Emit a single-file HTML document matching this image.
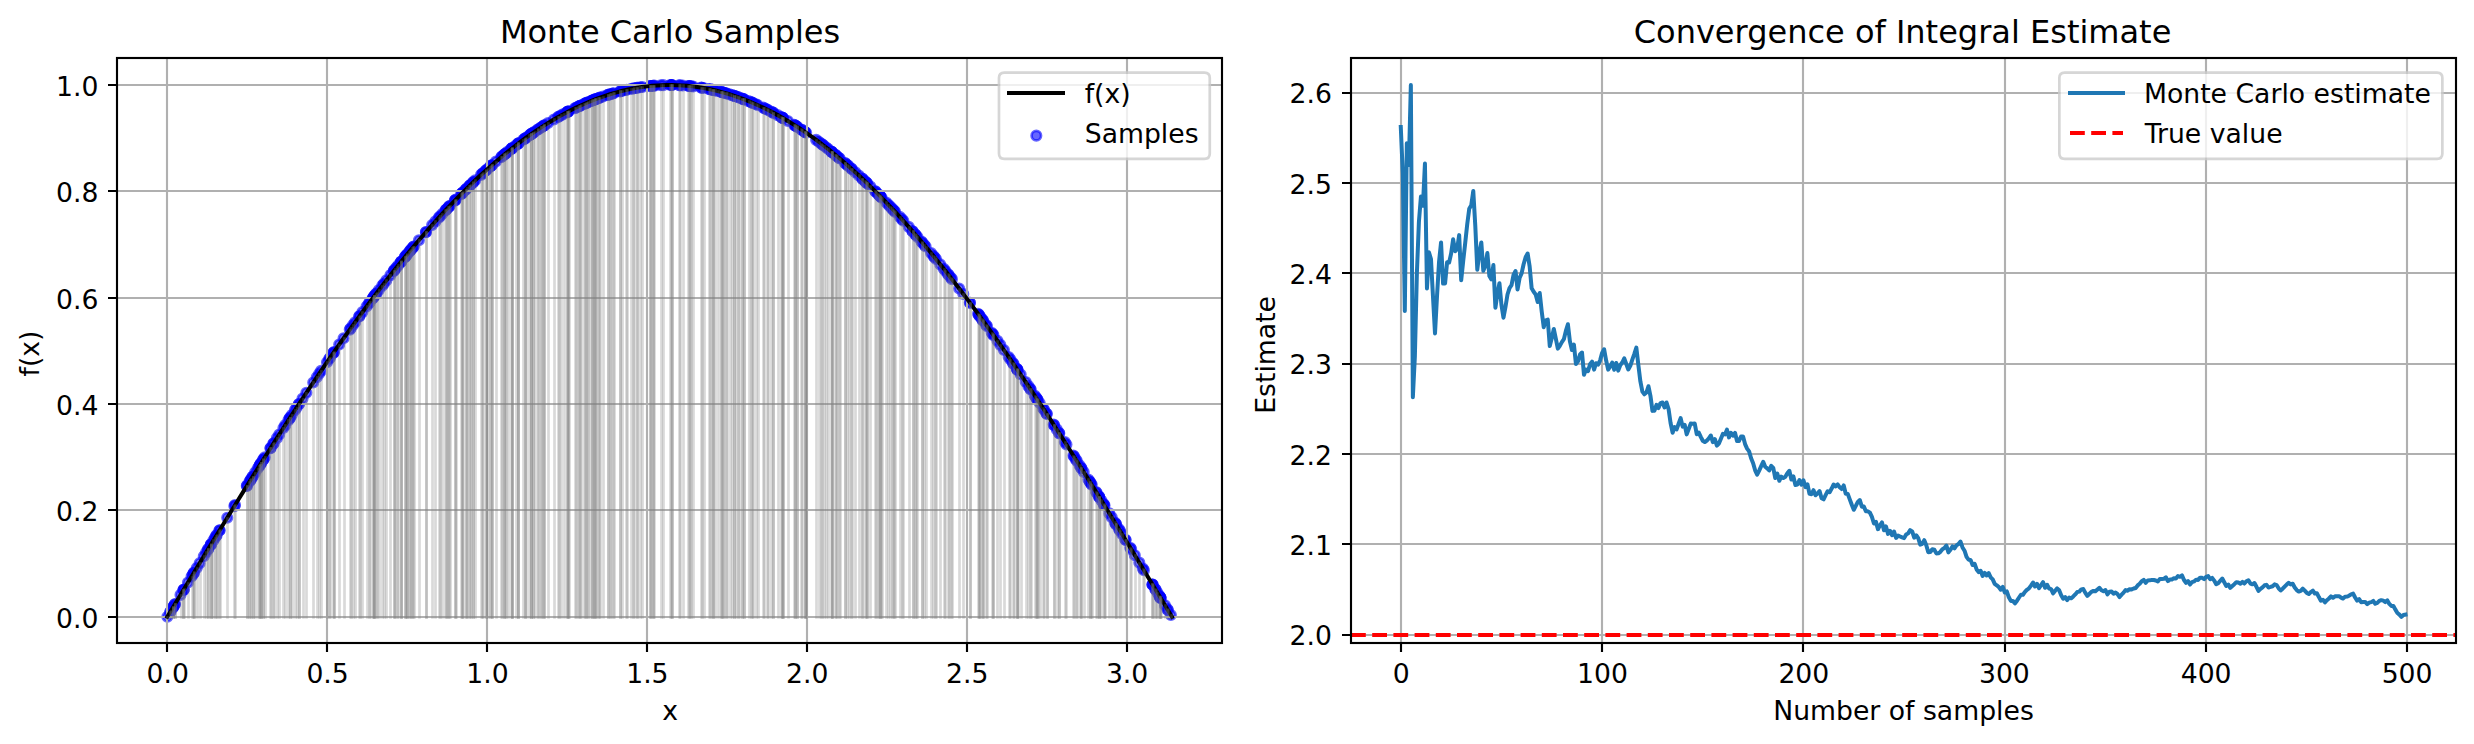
<!DOCTYPE html>
<html><head><meta charset="utf-8"><title>Monte Carlo Integration</title>
<style>html,body{margin:0;padding:0;background:#fff}svg{display:block}</style></head>
<body>
<svg width="2474" height="744" viewBox="0 0 2474 744">
<defs>
<clipPath id="c1"><rect x="117.05" y="58.45" width="1105.15" height="585.00"/></clipPath>
<clipPath id="c2"><rect x="1350.55" y="58.45" width="1105.15" height="585.00"/></clipPath>
<circle id="m" r="4.720" fill="#00f" fill-opacity=".6" stroke="#00f" stroke-opacity=".6" stroke-width="2.667"/>
</defs>
<rect width="2474" height="744" fill="#fff"/>
<g clip-path="url(#c1)">
<use href="#m" x="867.01" y="183.17"/><use href="#m" x="454.76" y="200.62"/><use href="#m" x="395.20" y="269.12"/><use href="#m" x="721.18" y="91.94"/><use href="#m" x="890.12" y="206.52"/><use href="#m" x="592.37" y="100.48"/><use href="#m" x="1152.64" y="584.74"/><use href="#m" x="855.32" y="172.20"/><use href="#m" x="650.47" y="85.99"/><use href="#m" x="561.24" y="115.29"/><use href="#m" x="512.07" y="148.29"/><use href="#m" x="899.75" y="216.89"/><use href="#m" x="607.91" y="94.91"/><use href="#m" x="227.24" y="517.73"/><use href="#m" x="567.19" y="112.09"/><use href="#m" x="908.73" y="226.89"/><use href="#m" x="350.63" y="328.39"/><use href="#m" x="343.56" y="338.34"/><use href="#m" x="701.32" y="87.65"/><use href="#m" x="701.60" y="87.70"/><use href="#m" x="804.66" y="131.75"/><use href="#m" x="1020.69" y="374.57"/><use href="#m" x="895.13" y="211.87"/><use href="#m" x="781.17" y="117.06"/><use href="#m" x="893.11" y="209.70"/><use href="#m" x="491.76" y="165.20"/><use href="#m" x="530.77" y="134.39"/><use href="#m" x="396.62" y="267.34"/><use href="#m" x="462.37" y="192.87"/><use href="#m" x="801.21" y="129.43"/><use href="#m" x="259.82" y="465.11"/><use href="#m" x="603.02" y="96.53"/><use href="#m" x="600.16" y="97.54"/><use href="#m" x="663.28" y="85.14"/><use href="#m" x="595.11" y="99.41"/><use href="#m" x="481.01" y="174.89"/><use href="#m" x="595.63" y="99.21"/><use href="#m" x="1064.86" y="442.05"/><use href="#m" x="1115.86" y="524.04"/><use href="#m" x="671.47" y="85.05"/><use href="#m" x="794.16" y="124.86"/><use href="#m" x="283.44" y="427.91"/><use href="#m" x="486.06" y="170.28"/><use href="#m" x="584.05" y="103.97"/><use href="#m" x="1037.65" y="400.00"/><use href="#m" x="418.91" y="240.27"/><use href="#m" x="652.58" y="85.80"/><use href="#m" x="1157.46" y="592.74"/><use href="#m" x="689.20" y="86.04"/><use href="#m" x="783.05" y="118.14"/><use href="#m" x="288.48" y="420.11"/><use href="#m" x="997.49" y="340.90"/><use href="#m" x="773.17" y="112.67"/><use href="#m" x="714.90" y="90.36"/><use href="#m" x="511.65" y="148.62"/><use href="#m" x="472.83" y="182.60"/><use href="#m" x="586.26" y="103.01"/><use href="#m" x="851.77" y="169.00"/><use href="#m" x="1046.84" y="414.05"/><use href="#m" x="680.10" y="85.33"/><use href="#m" x="839.73" y="158.52"/><use href="#m" x="755.96" y="104.30"/><use href="#m" x="795.11" y="125.46"/><use href="#m" x="845.13" y="163.14"/><use href="#m" x="1013.57" y="364.09"/><use href="#m" x="250.87" y="479.44"/><use href="#m" x="934.54" y="257.31"/><use href="#m" x="412.09" y="248.36"/><use href="#m" x="362.42" y="312.12"/><use href="#m" x="742.42" y="98.76"/><use href="#m" x="263.44" y="459.35"/><use href="#m" x="1056.76" y="429.39"/><use href="#m" x="797.47" y="126.97"/><use href="#m" x="894.09" y="210.75"/><use href="#m" x="183.49" y="589.92"/><use href="#m" x="764.50" y="108.27"/><use href="#m" x="726.68" y="93.48"/><use href="#m" x="326.99" y="362.18"/><use href="#m" x="321.07" y="370.86"/><use href="#m" x="866.07" y="182.26"/><use href="#m" x="487.54" y="168.94"/><use href="#m" x="862.49" y="178.86"/><use href="#m" x="724.26" y="92.78"/><use href="#m" x="558.06" y="117.08"/><use href="#m" x="1096.75" y="492.92"/><use href="#m" x="1012.89" y="363.10"/><use href="#m" x="526.35" y="137.52"/><use href="#m" x="211.08" y="544.26"/><use href="#m" x="473.48" y="181.97"/><use href="#m" x="567.33" y="112.01"/><use href="#m" x="875.54" y="191.53"/><use href="#m" x="1167.30" y="609.10"/><use href="#m" x="524.87" y="138.60"/><use href="#m" x="933.40" y="255.92"/><use href="#m" x="763.24" y="107.66"/><use href="#m" x="862.22" y="178.61"/><use href="#m" x="319.12" y="373.74"/><use href="#m" x="568.03" y="111.65"/><use href="#m" x="409.27" y="251.76"/><use href="#m" x="512.35" y="148.07"/><use href="#m" x="682.81" y="85.49"/><use href="#m" x="837.03" y="156.26"/><use href="#m" x="273.69" y="443.16"/><use href="#m" x="298.79" y="404.28"/><use href="#m" x="490.77" y="166.07"/><use href="#m" x="831.95" y="152.09"/><use href="#m" x="1017.75" y="370.23"/><use href="#m" x="723.13" y="92.47"/><use href="#m" x="1025.74" y="382.07"/><use href="#m" x="553.92" y="119.47"/><use href="#m" x="485.56" y="170.73"/><use href="#m" x="523.21" y="139.81"/><use href="#m" x="339.17" y="344.59"/><use href="#m" x="1000.28" y="344.87"/><use href="#m" x="507.54" y="151.90"/><use href="#m" x="722.24" y="92.22"/><use href="#m" x="748.54" y="101.15"/><use href="#m" x="691.26" y="86.26"/><use href="#m" x="169.98" y="612.37"/><use href="#m" x="1160.26" y="597.39"/><use href="#m" x="1076.86" y="461.03"/><use href="#m" x="375.89" y="294.03"/><use href="#m" x="461.14" y="194.10"/><use href="#m" x="689.73" y="86.09"/><use href="#m" x="1073.42" y="455.56"/><use href="#m" x="1155.52" y="589.52"/><use href="#m" x="426.03" y="232.00"/><use href="#m" x="734.29" y="95.87"/><use href="#m" x="978.03" y="313.76"/><use href="#m" x="563.50" y="114.05"/><use href="#m" x="901.78" y="219.12"/><use href="#m" x="329.11" y="359.09"/><use href="#m" x="770.80" y="111.43"/><use href="#m" x="1037.20" y="399.33"/><use href="#m" x="1155.41" y="589.34"/><use href="#m" x="247.02" y="485.63"/><use href="#m" x="597.64" y="98.46"/><use href="#m" x="372.78" y="298.16"/><use href="#m" x="620.03" y="91.42"/><use href="#m" x="717.61" y="91.02"/><use href="#m" x="261.05" y="463.16"/><use href="#m" x="465.53" y="189.71"/><use href="#m" x="1099.21" y="496.91"/><use href="#m" x="738.95" y="97.49"/><use href="#m" x="626.84" y="89.79"/><use href="#m" x="924.34" y="244.99"/><use href="#m" x="912.62" y="231.32"/><use href="#m" x="216.09" y="536.01"/><use href="#m" x="879.30" y="195.31"/><use href="#m" x="1010.46" y="359.55"/><use href="#m" x="334.00" y="352.00"/><use href="#m" x="951.94" y="279.15"/><use href="#m" x="455.16" y="200.21"/><use href="#m" x="475.19" y="180.34"/><use href="#m" x="835.66" y="155.12"/><use href="#m" x="279.20" y="434.53"/><use href="#m" x="835.27" y="154.80"/><use href="#m" x="1059.30" y="433.35"/><use href="#m" x="866.86" y="183.01"/><use href="#m" x="609.67" y="94.36"/><use href="#m" x="607.55" y="95.03"/><use href="#m" x="935.96" y="259.06"/><use href="#m" x="735.57" y="96.31"/><use href="#m" x="252.59" y="476.68"/><use href="#m" x="752.68" y="102.88"/><use href="#m" x="985.94" y="324.66"/><use href="#m" x="505.93" y="153.20"/><use href="#m" x="1099.20" y="496.90"/><use href="#m" x="921.52" y="241.65"/><use href="#m" x="744.04" y="99.37"/><use href="#m" x="922.45" y="242.75"/><use href="#m" x="246.80" y="485.98"/><use href="#m" x="1030.70" y="389.50"/><use href="#m" x="992.63" y="334.02"/><use href="#m" x="1081.42" y="468.28"/><use href="#m" x="296.52" y="407.75"/><use href="#m" x="249.45" y="481.72"/><use href="#m" x="306.35" y="392.82"/><use href="#m" x="568.53" y="111.39"/><use href="#m" x="593.58" y="100.01"/><use href="#m" x="732.13" y="95.17"/><use href="#m" x="290.10" y="417.60"/><use href="#m" x="369.63" y="302.38"/><use href="#m" x="982.73" y="320.21"/><use href="#m" x="637.46" y="87.73"/><use href="#m" x="979.00" y="315.09"/><use href="#m" x="174.75" y="604.45"/><use href="#m" x="721.46" y="92.01"/><use href="#m" x="1103.58" y="504.00"/><use href="#m" x="752.19" y="102.66"/><use href="#m" x="374.34" y="296.08"/><use href="#m" x="888.40" y="204.71"/><use href="#m" x="548.04" y="123.01"/><use href="#m" x="838.80" y="157.73"/><use href="#m" x="196.74" y="567.94"/><use href="#m" x="806.16" y="132.78"/><use href="#m" x="199.63" y="563.16"/><use href="#m" x="915.55" y="234.69"/><use href="#m" x="642.41" y="86.96"/><use href="#m" x="289.61" y="418.36"/><use href="#m" x="712.46" y="89.80"/><use href="#m" x="234.37" y="506.11"/><use href="#m" x="823.71" y="145.58"/><use href="#m" x="1168.03" y="610.32"/><use href="#m" x="940.28" y="264.41"/><use href="#m" x="743.74" y="99.26"/><use href="#m" x="270.40" y="448.34"/><use href="#m" x="870.39" y="186.45"/><use href="#m" x="831.55" y="151.77"/><use href="#m" x="216.61" y="535.15"/><use href="#m" x="963.29" y="293.95"/><use href="#m" x="688.43" y="85.96"/><use href="#m" x="595.15" y="99.40"/><use href="#m" x="959.16" y="288.52"/><use href="#m" x="580.78" y="105.43"/><use href="#m" x="650.56" y="85.98"/><use href="#m" x="349.76" y="329.60"/><use href="#m" x="490.11" y="166.65"/><use href="#m" x="1016.78" y="368.79"/><use href="#m" x="355.06" y="322.23"/><use href="#m" x="586.53" y="102.89"/><use href="#m" x="1160.95" y="598.54"/><use href="#m" x="404.99" y="256.97"/><use href="#m" x="1088.41" y="479.48"/><use href="#m" x="1089.98" y="482.01"/><use href="#m" x="259.01" y="466.41"/><use href="#m" x="633.11" y="88.50"/><use href="#m" x="671.85" y="85.05"/><use href="#m" x="482.42" y="173.59"/><use href="#m" x="214.85" y="538.06"/><use href="#m" x="410.10" y="250.76"/><use href="#m" x="263.26" y="459.64"/><use href="#m" x="406.65" y="254.94"/><use href="#m" x="978.86" y="314.89"/><use href="#m" x="1066.45" y="444.56"/><use href="#m" x="210.71" y="544.87"/><use href="#m" x="470.64" y="184.70"/><use href="#m" x="1152.46" y="584.44"/><use href="#m" x="709.31" y="89.13"/><use href="#m" x="796.53" y="126.36"/><use href="#m" x="172.86" y="607.59"/><use href="#m" x="654.46" y="85.64"/><use href="#m" x="1160.24" y="597.36"/><use href="#m" x="544.23" y="125.40"/><use href="#m" x="264.78" y="457.23"/><use href="#m" x="631.36" y="88.84"/><use href="#m" x="1134.80" y="555.19"/><use href="#m" x="510.72" y="149.36"/><use href="#m" x="969.95" y="302.81"/><use href="#m" x="969.87" y="302.71"/><use href="#m" x="376.51" y="293.22"/><use href="#m" x="612.73" y="93.43"/><use href="#m" x="886.24" y="202.44"/><use href="#m" x="579.73" y="105.92"/><use href="#m" x="359.19" y="316.54"/><use href="#m" x="1139.31" y="562.64"/><use href="#m" x="821.08" y="143.58"/><use href="#m" x="1036.80" y="398.71"/><use href="#m" x="192.64" y="574.73"/><use href="#m" x="435.44" y="221.37"/><use href="#m" x="671.71" y="85.05"/><use href="#m" x="235.05" y="505.01"/><use href="#m" x="1164.97" y="605.22"/><use href="#m" x="404.85" y="257.13"/><use href="#m" x="543.33" y="125.98"/><use href="#m" x="382.30" y="285.63"/><use href="#m" x="273.22" y="443.89"/><use href="#m" x="400.85" y="262.06"/><use href="#m" x="469.30" y="186.01"/><use href="#m" x="804.70" y="131.77"/><use href="#m" x="449.84" y="205.77"/><use href="#m" x="531.26" y="134.05"/><use href="#m" x="173.25" y="606.93"/><use href="#m" x="534.72" y="131.66"/><use href="#m" x="703.67" y="88.05"/><use href="#m" x="330.06" y="357.71"/><use href="#m" x="767.51" y="109.76"/><use href="#m" x="461.81" y="193.43"/><use href="#m" x="802.29" y="130.15"/><use href="#m" x="193.60" y="573.14"/><use href="#m" x="1059.03" y="432.93"/><use href="#m" x="183.48" y="589.94"/><use href="#m" x="294.84" y="410.32"/><use href="#m" x="948.09" y="274.23"/><use href="#m" x="213.39" y="540.44"/><use href="#m" x="881.61" y="197.66"/><use href="#m" x="1142.88" y="568.55"/><use href="#m" x="1043.05" y="408.23"/><use href="#m" x="880.77" y="196.81"/><use href="#m" x="1130.28" y="547.74"/><use href="#m" x="599.11" y="97.92"/><use href="#m" x="1044.25" y="410.07"/><use href="#m" x="524.91" y="138.57"/><use href="#m" x="1101.40" y="500.46"/><use href="#m" x="316.76" y="377.24"/><use href="#m" x="1111.71" y="517.25"/><use href="#m" x="1003.90" y="350.06"/><use href="#m" x="1017.30" y="369.56"/><use href="#m" x="291.79" y="415.00"/><use href="#m" x="766.56" y="109.29"/><use href="#m" x="183.75" y="589.48"/><use href="#m" x="891.84" y="208.35"/><use href="#m" x="175.06" y="603.93"/><use href="#m" x="252.50" y="476.81"/><use href="#m" x="393.84" y="270.84"/><use href="#m" x="1046.51" y="413.53"/><use href="#m" x="532.56" y="133.14"/><use href="#m" x="709.77" y="89.23"/><use href="#m" x="738.05" y="97.17"/><use href="#m" x="393.80" y="270.88"/><use href="#m" x="742.11" y="98.64"/><use href="#m" x="831.33" y="151.59"/><use href="#m" x="466.93" y="188.34"/><use href="#m" x="587.87" y="102.32"/><use href="#m" x="622.49" y="90.81"/><use href="#m" x="1104.00" y="504.68"/><use href="#m" x="757.53" y="105.00"/><use href="#m" x="1119.98" y="530.78"/><use href="#m" x="725.92" y="93.26"/><use href="#m" x="670.19" y="85.04"/><use href="#m" x="170.83" y="610.96"/><use href="#m" x="650.42" y="86.00"/><use href="#m" x="1099.08" y="496.70"/><use href="#m" x="366.58" y="306.48"/><use href="#m" x="219.62" y="530.22"/><use href="#m" x="575.97" y="107.68"/><use href="#m" x="541.42" y="127.20"/><use href="#m" x="1028.45" y="386.13"/><use href="#m" x="194.02" y="572.45"/><use href="#m" x="1091.74" y="484.84"/><use href="#m" x="851.37" y="168.64"/><use href="#m" x="1075.74" y="459.25"/><use href="#m" x="777.66" y="115.10"/><use href="#m" x="983.04" y="320.64"/><use href="#m" x="504.40" y="154.45"/><use href="#m" x="518.49" y="143.33"/><use href="#m" x="558.98" y="116.55"/><use href="#m" x="925.61" y="246.52"/><use href="#m" x="538.30" y="129.25"/><use href="#m" x="410.64" y="250.11"/><use href="#m" x="1109.34" y="513.38"/><use href="#m" x="1079.55" y="465.30"/><use href="#m" x="517.71" y="143.92"/><use href="#m" x="804.89" y="131.91"/><use href="#m" x="442.41" y="213.72"/><use href="#m" x="374.36" y="296.06"/><use href="#m" x="505.20" y="153.80"/><use href="#m" x="495.92" y="161.59"/><use href="#m" x="1053.69" y="424.62"/><use href="#m" x="993.44" y="335.15"/><use href="#m" x="880.23" y="196.25"/><use href="#m" x="1131.12" y="549.12"/><use href="#m" x="591.81" y="100.71"/><use href="#m" x="413.46" y="246.72"/><use href="#m" x="285.23" y="425.13"/><use href="#m" x="469.75" y="185.58"/><use href="#m" x="313.23" y="382.50"/><use href="#m" x="259.90" y="464.98"/><use href="#m" x="773.04" y="112.60"/><use href="#m" x="533.18" y="132.72"/><use href="#m" x="734.50" y="95.94"/><use href="#m" x="359.52" y="316.09"/><use href="#m" x="847.36" y="165.08"/><use href="#m" x="383.80" y="283.68"/><use href="#m" x="446.61" y="209.20"/><use href="#m" x="912.52" y="231.20"/><use href="#m" x="729.64" y="94.38"/><use href="#m" x="503.69" y="155.04"/><use href="#m" x="712.82" y="89.88"/><use href="#m" x="864.52" y="180.78"/><use href="#m" x="1083.69" y="471.91"/><use href="#m" x="750.72" y="102.05"/><use href="#m" x="401.06" y="261.81"/><use href="#m" x="917.48" y="236.93"/><use href="#m" x="948.69" y="275.00"/><use href="#m" x="368.62" y="303.72"/><use href="#m" x="991.70" y="332.71"/><use href="#m" x="634.40" y="88.26"/><use href="#m" x="950.70" y="277.56"/><use href="#m" x="405.87" y="255.89"/><use href="#m" x="501.42" y="156.92"/><use href="#m" x="1125.45" y="539.77"/><use href="#m" x="828.18" y="149.07"/><use href="#m" x="943.78" y="268.78"/><use href="#m" x="858.88" y="175.48"/><use href="#m" x="372.54" y="298.47"/><use href="#m" x="640.18" y="87.29"/><use href="#m" x="980.04" y="316.50"/><use href="#m" x="845.48" y="163.44"/><use href="#m" x="173.34" y="606.79"/><use href="#m" x="255.10" y="472.65"/><use href="#m" x="515.70" y="145.46"/><use href="#m" x="1116.07" y="524.38"/><use href="#m" x="660.77" y="85.24"/><use href="#m" x="438.73" y="217.74"/><use href="#m" x="529.40" y="135.35"/><use href="#m" x="378.92" y="290.04"/><use href="#m" x="590.46" y="101.25"/><use href="#m" x="386.34" y="280.40"/><use href="#m" x="1017.00" y="369.12"/><use href="#m" x="625.69" y="90.05"/><use href="#m" x="448.40" y="207.30"/><use href="#m" x="1104.54" y="505.57"/><use href="#m" x="483.11" y="172.96"/><use href="#m" x="1081.26" y="468.03"/><use href="#m" x="210.91" y="544.54"/><use href="#m" x="877.71" y="193.70"/><use href="#m" x="653.44" y="85.72"/><use href="#m" x="613.58" y="93.18"/><use href="#m" x="203.78" y="556.30"/><use href="#m" x="208.16" y="549.07"/><use href="#m" x="501.60" y="156.78"/><use href="#m" x="1118.84" y="528.91"/><use href="#m" x="787.84" y="120.96"/><use href="#m" x="537.89" y="129.53"/><use href="#m" x="782.13" y="117.61"/><use href="#m" x="374.38" y="296.03"/><use href="#m" x="333.12" y="353.27"/><use href="#m" x="530.80" y="134.37"/><use href="#m" x="1034.68" y="395.50"/><use href="#m" x="679.07" y="85.27"/><use href="#m" x="465.58" y="189.67"/><use href="#m" x="1121.98" y="534.08"/><use href="#m" x="987.07" y="326.23"/><use href="#m" x="491.77" y="165.19"/><use href="#m" x="1143.93" y="570.30"/><use href="#m" x="1159.26" y="595.73"/><use href="#m" x="577.86" y="106.79"/><use href="#m" x="826.28" y="147.58"/><use href="#m" x="574.84" y="108.23"/><use href="#m" x="425.84" y="232.23"/><use href="#m" x="250.32" y="480.31"/><use href="#m" x="432.13" y="225.08"/><use href="#m" x="440.03" y="216.31"/><use href="#m" x="567.79" y="111.78"/><use href="#m" x="353.04" y="325.04"/><use href="#m" x="1125.57" y="539.97"/><use href="#m" x="270.65" y="447.95"/><use href="#m" x="795.42" y="125.66"/><use href="#m" x="611.05" y="93.94"/><use href="#m" x="592.78" y="100.32"/><use href="#m" x="541.02" y="127.47"/><use href="#m" x="1039.66" y="403.07"/><use href="#m" x="449.07" y="206.58"/><use href="#m" x="187.96" y="582.51"/><use href="#m" x="1089.68" y="481.52"/><use href="#m" x="1035.81" y="397.22"/><use href="#m" x="445.48" y="210.40"/><use href="#m" x="693.22" y="86.49"/><use href="#m" x="276.88" y="438.15"/><use href="#m" x="261.15" y="463.00"/><use href="#m" x="1008.67" y="356.95"/><use href="#m" x="579.47" y="106.03"/><use href="#m" x="832.10" y="152.21"/><use href="#m" x="1114.90" y="522.46"/><use href="#m" x="413.56" y="246.60"/><use href="#m" x="180.51" y="594.88"/><use href="#m" x="191.55" y="576.55"/><use href="#m" x="879.99" y="196.01"/><use href="#m" x="1096.16" y="491.98"/><use href="#m" x="636.80" y="87.84"/><use href="#m" x="544.15" y="125.45"/><use href="#m" x="712.69" y="89.85"/><use href="#m" x="1030.22" y="388.79"/><use href="#m" x="822.49" y="144.65"/><use href="#m" x="401.35" y="261.44"/><use href="#m" x="945.49" y="270.94"/><use href="#m" x="302.53" y="398.60"/><use href="#m" x="333.62" y="352.55"/><use href="#m" x="782.83" y="118.02"/><use href="#m" x="407.19" y="254.29"/><use href="#m" x="875.36" y="191.35"/><use href="#m" x="518.44" y="143.37"/><use href="#m" x="446.01" y="209.84"/><use href="#m" x="1170.88" y="615.05"/><use href="#m" x="208.09" y="549.18"/><use href="#m" x="816.13" y="139.88"/><use href="#m" x="206.16" y="552.36"/><use href="#m" x="931.05" y="253.06"/><use href="#m" x="398.45" y="265.05"/><use href="#m" x="257.54" y="468.76"/><use href="#m" x="818.77" y="141.83"/><use href="#m" x="903.32" y="220.82"/><use href="#m" x="848.55" y="166.13"/><use href="#m" x="219.43" y="530.53"/><use href="#m" x="462.97" y="192.27"/><use href="#m" x="620.48" y="91.31"/><use href="#m" x="455.73" y="199.62"/><use href="#m" x="981.59" y="318.64"/><use href="#m" x="299.01" y="403.94"/><use href="#m" x="782.33" y="117.73"/><use href="#m" x="1160.13" y="597.17"/><use href="#m" x="1074.07" y="456.59"/><use href="#m" x="390.48" y="275.10"/><use href="#m" x="167.37" y="616.72"/><use href="#m" x="1152.47" y="584.46"/><use href="#m" x="1054.13" y="425.30"/><use href="#m" x="1091.06" y="483.75"/><use href="#m" x="584.73" y="103.67"/><use href="#m" x="915.39" y="234.50"/>
</g>
<g clip-path="url(#c1)" stroke="#b0b0b0" stroke-width="2.133" fill="none">
<path d="M167 643.45V58.45M327 643.45V58.45M487 643.45V58.45M647 643.45V58.45M807 643.45V58.45M967 643.45V58.45M1127 643.45V58.45M117.05 617H1222.20M117.05 510H1222.20M117.05 404H1222.20M117.05 298H1222.20M117.05 191H1222.20M117.05 85H1222.20"/></g>
<g clip-path="url(#c1)"><polyline points="167.28,616.86 172.33,608.46 177.38,600.07 182.43,591.68 187.48,583.30 192.53,574.92 197.58,566.56 202.62,558.21 207.67,549.87 212.72,541.55 217.77,533.25 222.82,524.97 227.87,516.71 232.92,508.48 237.97,500.27 243.01,492.10 248.06,483.95 253.11,475.84 258.16,467.76 263.21,459.72 268.26,451.72 273.31,443.76 278.35,435.84 283.40,427.97 288.45,420.15 293.50,412.37 298.55,404.65 303.60,396.98 308.65,389.36 313.70,381.80 318.74,374.30 323.79,366.86 328.84,359.48 333.89,352.16 338.94,344.91 343.99,337.73 349.04,330.62 354.08,323.58 359.13,316.61 364.18,309.72 369.23,302.91 374.28,296.17 379.33,289.51 384.38,282.94 389.42,276.44 394.47,270.04 399.52,263.71 404.57,257.48 409.62,251.34 414.67,245.29 419.72,239.33 424.77,233.46 429.81,227.69 434.86,222.02 439.91,216.44 444.96,210.97 450.01,205.59 455.06,200.32 460.11,195.15 465.15,190.09 470.20,185.13 475.25,180.28 480.30,175.54 485.35,170.91 490.40,166.40 495.45,161.99 500.50,157.70 505.54,153.52 510.59,149.45 515.64,145.51 520.69,141.68 525.74,137.97 530.79,134.38 535.84,130.90 540.88,127.55 545.93,124.33 550.98,121.22 556.03,118.24 561.08,115.38 566.13,112.65 571.18,110.04 576.22,107.56 581.27,105.21 586.32,102.98 591.37,100.88 596.42,98.91 601.47,97.07 606.52,95.36 611.57,93.78 616.61,92.33 621.66,91.01 626.71,89.82 631.76,88.76 636.81,87.84 641.86,87.04 646.91,86.38 651.95,85.85 657.00,85.45 662.05,85.19 667.10,85.06 672.15,85.06 677.20,85.19 682.25,85.45 687.30,85.85 692.34,86.38 697.39,87.04 702.44,87.84 707.49,88.76 712.54,89.82 717.59,91.01 722.64,92.33 727.68,93.78 732.73,95.36 737.78,97.07 742.83,98.91 747.88,100.88 752.93,102.98 757.98,105.21 763.03,107.56 768.07,110.04 773.12,112.65 778.17,115.38 783.22,118.24 788.27,121.22 793.32,124.33 798.37,127.55 803.41,130.90 808.46,134.38 813.51,137.97 818.56,141.68 823.61,145.51 828.66,149.45 833.71,153.52 838.75,157.70 843.80,161.99 848.85,166.40 853.90,170.91 858.95,175.54 864.00,180.28 869.05,185.13 874.10,190.09 879.14,195.15 884.19,200.32 889.24,205.59 894.29,210.97 899.34,216.44 904.39,222.02 909.44,227.69 914.48,233.46 919.53,239.33 924.58,245.29 929.63,251.34 934.68,257.48 939.73,263.71 944.78,270.04 949.83,276.44 954.87,282.94 959.92,289.51 964.97,296.17 970.02,302.91 975.07,309.72 980.12,316.61 985.17,323.58 990.21,330.62 995.26,337.73 1000.31,344.91 1005.36,352.16 1010.41,359.48 1015.46,366.86 1020.51,374.30 1025.55,381.80 1030.60,389.36 1035.65,396.98 1040.70,404.65 1045.75,412.37 1050.80,420.15 1055.85,427.97 1060.90,435.84 1065.94,443.76 1070.99,451.72 1076.04,459.72 1081.09,467.76 1086.14,475.84 1091.19,483.95 1096.24,492.10 1101.28,500.27 1106.33,508.48 1111.38,516.71 1116.43,524.97 1121.48,533.25 1126.53,541.55 1131.58,549.87 1136.63,558.21 1141.67,566.56 1146.72,574.92 1151.77,583.30 1156.82,591.68 1161.87,600.07 1166.92,608.46 1171.97,616.86" fill="none" stroke="#000" stroke-width="4.000" stroke-linejoin="round" stroke-linecap="square"/>
<g stroke="#808080" stroke-opacity=".3" stroke-width="2.667" stroke-linecap="square" fill="none"><path d="M867.5 617.5V183.5"/><path d="M455.5 617.5V201.5"/><path d="M395.5 617.5V269.5"/><path d="M721.5 617.5V92.5"/><path d="M890.5 617.5V207.5"/><path d="M592.5 617.5V100.5"/><path d="M1153.5 617.5V585.5"/><path d="M855.5 617.5V172.5"/><path d="M650.5 617.5V86.5"/><path d="M561.5 617.5V115.5"/><path d="M512.5 617.5V148.5"/><path d="M900.5 617.5V217.5"/><path d="M608.5 617.5V95.5"/><path d="M227.5 617.5V518.5"/><path d="M567.5 617.5V112.5"/><path d="M909.5 617.5V227.5"/><path d="M351.5 617.5V328.5"/><path d="M344.5 617.5V338.5"/><path d="M701.5 617.5V88.5"/><path d="M702.5 617.5V88.5"/><path d="M805.5 617.5V132.5"/><path d="M1021.5 617.5V375.5"/><path d="M895.5 617.5V212.5"/><path d="M781.5 617.5V117.5"/><path d="M893.5 617.5V210.5"/><path d="M492.5 617.5V165.5"/><path d="M531.5 617.5V134.5"/><path d="M397.5 617.5V267.5"/><path d="M462.5 617.5V193.5"/><path d="M801.5 617.5V129.5"/><path d="M260.5 617.5V465.5"/><path d="M603.5 617.5V97.5"/><path d="M600.5 617.5V98.5"/><path d="M663.5 617.5V85.5"/><path d="M595.5 617.5V99.5"/><path d="M481.5 617.5V175.5"/><path d="M596.5 617.5V99.5"/><path d="M1065.5 617.5V442.5"/><path d="M1116.5 617.5V524.5"/><path d="M671.5 617.5V85.5"/><path d="M794.5 617.5V125.5"/><path d="M283.5 617.5V428.5"/><path d="M486.5 617.5V170.5"/><path d="M584.5 617.5V104.5"/><path d="M1038.5 617.5V400.5"/><path d="M419.5 617.5V240.5"/><path d="M653.5 617.5V86.5"/><path d="M1157.5 617.5V593.5"/><path d="M689.5 617.5V86.5"/><path d="M783.5 617.5V118.5"/><path d="M288.5 617.5V420.5"/><path d="M997.5 617.5V341.5"/><path d="M773.5 617.5V113.5"/><path d="M715.5 617.5V90.5"/><path d="M512.5 617.5V149.5"/><path d="M473.5 617.5V183.5"/><path d="M586.5 617.5V103.5"/><path d="M852.5 617.5V169.5"/><path d="M1047.5 617.5V414.5"/><path d="M680.5 617.5V85.5"/><path d="M840.5 617.5V159.5"/><path d="M756.5 617.5V104.5"/><path d="M795.5 617.5V125.5"/><path d="M845.5 617.5V163.5"/><path d="M1014.5 617.5V364.5"/><path d="M251.5 617.5V479.5"/><path d="M935.5 617.5V257.5"/><path d="M412.5 617.5V248.5"/><path d="M362.5 617.5V312.5"/><path d="M742.5 617.5V99.5"/><path d="M263.5 617.5V459.5"/><path d="M1057.5 617.5V429.5"/><path d="M797.5 617.5V127.5"/><path d="M894.5 617.5V211.5"/><path d="M183.5 617.5V590.5"/><path d="M764.5 617.5V108.5"/><path d="M727.5 617.5V93.5"/><path d="M327.5 617.5V362.5"/><path d="M321.5 617.5V371.5"/><path d="M866.5 617.5V182.5"/><path d="M488.5 617.5V169.5"/><path d="M862.5 617.5V179.5"/><path d="M724.5 617.5V93.5"/><path d="M558.5 617.5V117.5"/><path d="M1097.5 617.5V493.5"/><path d="M1013.5 617.5V363.5"/><path d="M526.5 617.5V138.5"/><path d="M211.5 617.5V544.5"/><path d="M473.5 617.5V182.5"/><path d="M567.5 617.5V112.5"/><path d="M876.5 617.5V192.5"/><path d="M1167.5 617.5V609.5"/><path d="M525.5 617.5V139.5"/><path d="M933.5 617.5V256.5"/><path d="M763.5 617.5V108.5"/><path d="M862.5 617.5V179.5"/><path d="M319.5 617.5V374.5"/><path d="M568.5 617.5V112.5"/><path d="M409.5 617.5V252.5"/><path d="M512.5 617.5V148.5"/><path d="M683.5 617.5V85.5"/><path d="M837.5 617.5V156.5"/><path d="M274.5 617.5V443.5"/><path d="M299.5 617.5V404.5"/><path d="M491.5 617.5V166.5"/><path d="M832.5 617.5V152.5"/><path d="M1018.5 617.5V370.5"/><path d="M723.5 617.5V92.5"/><path d="M1026.5 617.5V382.5"/><path d="M554.5 617.5V119.5"/><path d="M486.5 617.5V171.5"/><path d="M523.5 617.5V140.5"/><path d="M339.5 617.5V345.5"/><path d="M1000.5 617.5V345.5"/><path d="M508.5 617.5V152.5"/><path d="M722.5 617.5V92.5"/><path d="M749.5 617.5V101.5"/><path d="M691.5 617.5V86.5"/><path d="M170.5 617.5V612.5"/><path d="M1160.5 617.5V597.5"/><path d="M1077.5 617.5V461.5"/><path d="M376.5 617.5V294.5"/><path d="M461.5 617.5V194.5"/><path d="M690.5 617.5V86.5"/><path d="M1073.5 617.5V456.5"/><path d="M1156.5 617.5V590.5"/><path d="M426.5 617.5V232.5"/><path d="M734.5 617.5V96.5"/><path d="M978.5 617.5V314.5"/><path d="M564.5 617.5V114.5"/><path d="M902.5 617.5V219.5"/><path d="M329.5 617.5V359.5"/><path d="M771.5 617.5V111.5"/><path d="M1037.5 617.5V399.5"/><path d="M1155.5 617.5V589.5"/><path d="M247.5 617.5V486.5"/><path d="M598.5 617.5V98.5"/><path d="M373.5 617.5V298.5"/><path d="M620.5 617.5V91.5"/><path d="M718.5 617.5V91.5"/><path d="M261.5 617.5V463.5"/><path d="M466.5 617.5V190.5"/><path d="M1099.5 617.5V497.5"/><path d="M739.5 617.5V97.5"/><path d="M627.5 617.5V90.5"/><path d="M924.5 617.5V245.5"/><path d="M913.5 617.5V231.5"/><path d="M216.5 617.5V536.5"/><path d="M879.5 617.5V195.5"/><path d="M1010.5 617.5V360.5"/><path d="M334.5 617.5V352.5"/><path d="M952.5 617.5V279.5"/><path d="M455.5 617.5V200.5"/><path d="M475.5 617.5V180.5"/><path d="M836.5 617.5V155.5"/><path d="M279.5 617.5V435.5"/><path d="M835.5 617.5V155.5"/><path d="M1059.5 617.5V433.5"/><path d="M867.5 617.5V183.5"/><path d="M610.5 617.5V94.5"/><path d="M608.5 617.5V95.5"/><path d="M936.5 617.5V259.5"/><path d="M736.5 617.5V96.5"/><path d="M253.5 617.5V477.5"/><path d="M753.5 617.5V103.5"/><path d="M986.5 617.5V325.5"/><path d="M506.5 617.5V153.5"/><path d="M1099.5 617.5V497.5"/><path d="M922.5 617.5V242.5"/><path d="M744.5 617.5V99.5"/><path d="M922.5 617.5V243.5"/><path d="M247.5 617.5V486.5"/><path d="M1031.5 617.5V389.5"/><path d="M993.5 617.5V334.5"/><path d="M1081.5 617.5V468.5"/><path d="M297.5 617.5V408.5"/><path d="M249.5 617.5V482.5"/><path d="M306.5 617.5V393.5"/><path d="M569.5 617.5V111.5"/><path d="M594.5 617.5V100.5"/><path d="M732.5 617.5V95.5"/><path d="M290.5 617.5V418.5"/><path d="M370.5 617.5V302.5"/><path d="M983.5 617.5V320.5"/><path d="M637.5 617.5V88.5"/><path d="M979.5 617.5V315.5"/><path d="M175.5 617.5V604.5"/><path d="M721.5 617.5V92.5"/><path d="M1104.5 617.5V504.5"/><path d="M752.5 617.5V103.5"/><path d="M374.5 617.5V296.5"/><path d="M888.5 617.5V205.5"/><path d="M548.5 617.5V123.5"/><path d="M839.5 617.5V158.5"/><path d="M197.5 617.5V568.5"/><path d="M806.5 617.5V133.5"/><path d="M200.5 617.5V563.5"/><path d="M916.5 617.5V235.5"/><path d="M642.5 617.5V87.5"/><path d="M290.5 617.5V418.5"/><path d="M712.5 617.5V90.5"/><path d="M234.5 617.5V506.5"/><path d="M824.5 617.5V146.5"/><path d="M1168.5 617.5V610.5"/><path d="M940.5 617.5V264.5"/><path d="M744.5 617.5V99.5"/><path d="M270.5 617.5V448.5"/><path d="M870.5 617.5V186.5"/><path d="M832.5 617.5V152.5"/><path d="M217.5 617.5V535.5"/><path d="M963.5 617.5V294.5"/><path d="M688.5 617.5V86.5"/><path d="M595.5 617.5V99.5"/><path d="M959.5 617.5V289.5"/><path d="M581.5 617.5V105.5"/><path d="M651.5 617.5V86.5"/><path d="M350.5 617.5V330.5"/><path d="M490.5 617.5V167.5"/><path d="M1017.5 617.5V369.5"/><path d="M355.5 617.5V322.5"/><path d="M587.5 617.5V103.5"/><path d="M1161.5 617.5V599.5"/><path d="M405.5 617.5V257.5"/><path d="M1088.5 617.5V479.5"/><path d="M1090.5 617.5V482.5"/><path d="M259.5 617.5V466.5"/><path d="M633.5 617.5V89.5"/><path d="M672.5 617.5V85.5"/><path d="M482.5 617.5V174.5"/><path d="M215.5 617.5V538.5"/><path d="M410.5 617.5V251.5"/><path d="M263.5 617.5V460.5"/><path d="M407.5 617.5V255.5"/><path d="M979.5 617.5V315.5"/><path d="M1066.5 617.5V445.5"/><path d="M211.5 617.5V545.5"/><path d="M471.5 617.5V185.5"/><path d="M1152.5 617.5V584.5"/><path d="M709.5 617.5V89.5"/><path d="M797.5 617.5V126.5"/><path d="M173.5 617.5V608.5"/><path d="M654.5 617.5V86.5"/><path d="M1160.5 617.5V597.5"/><path d="M544.5 617.5V125.5"/><path d="M265.5 617.5V457.5"/><path d="M631.5 617.5V89.5"/><path d="M1135.5 617.5V555.5"/><path d="M511.5 617.5V149.5"/><path d="M970.5 617.5V303.5"/><path d="M970.5 617.5V303.5"/><path d="M377.5 617.5V293.5"/><path d="M613.5 617.5V93.5"/><path d="M886.5 617.5V202.5"/><path d="M580.5 617.5V106.5"/><path d="M359.5 617.5V317.5"/><path d="M1139.5 617.5V563.5"/><path d="M821.5 617.5V144.5"/><path d="M1037.5 617.5V399.5"/><path d="M193.5 617.5V575.5"/><path d="M435.5 617.5V221.5"/><path d="M672.5 617.5V85.5"/><path d="M235.5 617.5V505.5"/><path d="M1165.5 617.5V605.5"/><path d="M405.5 617.5V257.5"/><path d="M543.5 617.5V126.5"/><path d="M382.5 617.5V286.5"/><path d="M273.5 617.5V444.5"/><path d="M401.5 617.5V262.5"/><path d="M469.5 617.5V186.5"/><path d="M805.5 617.5V132.5"/><path d="M450.5 617.5V206.5"/><path d="M531.5 617.5V134.5"/><path d="M173.5 617.5V607.5"/><path d="M535.5 617.5V132.5"/><path d="M704.5 617.5V88.5"/><path d="M330.5 617.5V358.5"/><path d="M768.5 617.5V110.5"/><path d="M462.5 617.5V193.5"/><path d="M802.5 617.5V130.5"/><path d="M194.5 617.5V573.5"/><path d="M1059.5 617.5V433.5"/><path d="M183.5 617.5V590.5"/><path d="M295.5 617.5V410.5"/><path d="M948.5 617.5V274.5"/><path d="M213.5 617.5V540.5"/><path d="M882.5 617.5V198.5"/><path d="M1143.5 617.5V569.5"/><path d="M1043.5 617.5V408.5"/><path d="M881.5 617.5V197.5"/><path d="M1130.5 617.5V548.5"/><path d="M599.5 617.5V98.5"/><path d="M1044.5 617.5V410.5"/><path d="M525.5 617.5V139.5"/><path d="M1101.5 617.5V500.5"/><path d="M317.5 617.5V377.5"/><path d="M1112.5 617.5V517.5"/><path d="M1004.5 617.5V350.5"/><path d="M1017.5 617.5V370.5"/><path d="M292.5 617.5V415.5"/><path d="M767.5 617.5V109.5"/><path d="M184.5 617.5V589.5"/><path d="M892.5 617.5V208.5"/><path d="M175.5 617.5V604.5"/><path d="M253.5 617.5V477.5"/><path d="M394.5 617.5V271.5"/><path d="M1047.5 617.5V414.5"/><path d="M533.5 617.5V133.5"/><path d="M710.5 617.5V89.5"/><path d="M738.5 617.5V97.5"/><path d="M394.5 617.5V271.5"/><path d="M742.5 617.5V99.5"/><path d="M831.5 617.5V152.5"/><path d="M467.5 617.5V188.5"/><path d="M588.5 617.5V102.5"/><path d="M622.5 617.5V91.5"/><path d="M1104.5 617.5V505.5"/><path d="M758.5 617.5V105.5"/><path d="M1120.5 617.5V531.5"/><path d="M726.5 617.5V93.5"/><path d="M670.5 617.5V85.5"/><path d="M171.5 617.5V611.5"/><path d="M650.5 617.5V86.5"/><path d="M1099.5 617.5V497.5"/><path d="M367.5 617.5V306.5"/><path d="M220.5 617.5V530.5"/><path d="M576.5 617.5V108.5"/><path d="M541.5 617.5V127.5"/><path d="M1028.5 617.5V386.5"/><path d="M194.5 617.5V572.5"/><path d="M1092.5 617.5V485.5"/><path d="M851.5 617.5V169.5"/><path d="M1076.5 617.5V459.5"/><path d="M778.5 617.5V115.5"/><path d="M983.5 617.5V321.5"/><path d="M504.5 617.5V154.5"/><path d="M518.5 617.5V143.5"/><path d="M559.5 617.5V117.5"/><path d="M926.5 617.5V247.5"/><path d="M538.5 617.5V129.5"/><path d="M411.5 617.5V250.5"/><path d="M1109.5 617.5V513.5"/><path d="M1080.5 617.5V465.5"/><path d="M518.5 617.5V144.5"/><path d="M805.5 617.5V132.5"/><path d="M442.5 617.5V214.5"/><path d="M374.5 617.5V296.5"/><path d="M505.5 617.5V154.5"/><path d="M496.5 617.5V162.5"/><path d="M1054.5 617.5V425.5"/><path d="M993.5 617.5V335.5"/><path d="M880.5 617.5V196.5"/><path d="M1131.5 617.5V549.5"/><path d="M592.5 617.5V101.5"/><path d="M413.5 617.5V247.5"/><path d="M285.5 617.5V425.5"/><path d="M470.5 617.5V186.5"/><path d="M313.5 617.5V382.5"/><path d="M260.5 617.5V465.5"/><path d="M773.5 617.5V113.5"/><path d="M533.5 617.5V133.5"/><path d="M734.5 617.5V96.5"/><path d="M360.5 617.5V316.5"/><path d="M847.5 617.5V165.5"/><path d="M384.5 617.5V284.5"/><path d="M447.5 617.5V209.5"/><path d="M913.5 617.5V231.5"/><path d="M730.5 617.5V94.5"/><path d="M504.5 617.5V155.5"/><path d="M713.5 617.5V90.5"/><path d="M865.5 617.5V181.5"/><path d="M1084.5 617.5V472.5"/><path d="M751.5 617.5V102.5"/><path d="M401.5 617.5V262.5"/><path d="M917.5 617.5V237.5"/><path d="M949.5 617.5V275.5"/><path d="M369.5 617.5V304.5"/><path d="M992.5 617.5V333.5"/><path d="M634.5 617.5V88.5"/><path d="M951.5 617.5V278.5"/><path d="M406.5 617.5V256.5"/><path d="M501.5 617.5V157.5"/><path d="M1125.5 617.5V540.5"/><path d="M828.5 617.5V149.5"/><path d="M944.5 617.5V269.5"/><path d="M859.5 617.5V175.5"/><path d="M373.5 617.5V298.5"/><path d="M640.5 617.5V87.5"/><path d="M980.5 617.5V317.5"/><path d="M845.5 617.5V163.5"/><path d="M173.5 617.5V607.5"/><path d="M255.5 617.5V473.5"/><path d="M516.5 617.5V145.5"/><path d="M1116.5 617.5V524.5"/><path d="M661.5 617.5V85.5"/><path d="M439.5 617.5V218.5"/><path d="M529.5 617.5V135.5"/><path d="M379.5 617.5V290.5"/><path d="M590.5 617.5V101.5"/><path d="M386.5 617.5V280.5"/><path d="M1017.5 617.5V369.5"/><path d="M626.5 617.5V90.5"/><path d="M448.5 617.5V207.5"/><path d="M1105.5 617.5V506.5"/><path d="M483.5 617.5V173.5"/><path d="M1081.5 617.5V468.5"/><path d="M211.5 617.5V545.5"/><path d="M878.5 617.5V194.5"/><path d="M653.5 617.5V86.5"/><path d="M614.5 617.5V93.5"/><path d="M204.5 617.5V556.5"/><path d="M208.5 617.5V549.5"/><path d="M502.5 617.5V157.5"/><path d="M1119.5 617.5V529.5"/><path d="M788.5 617.5V121.5"/><path d="M538.5 617.5V130.5"/><path d="M782.5 617.5V118.5"/><path d="M374.5 617.5V296.5"/><path d="M333.5 617.5V353.5"/><path d="M531.5 617.5V134.5"/><path d="M1035.5 617.5V396.5"/><path d="M679.5 617.5V85.5"/><path d="M466.5 617.5V190.5"/><path d="M1122.5 617.5V534.5"/><path d="M987.5 617.5V326.5"/><path d="M492.5 617.5V165.5"/><path d="M1144.5 617.5V570.5"/><path d="M1159.5 617.5V596.5"/><path d="M578.5 617.5V107.5"/><path d="M826.5 617.5V148.5"/><path d="M575.5 617.5V108.5"/><path d="M426.5 617.5V232.5"/><path d="M250.5 617.5V480.5"/><path d="M432.5 617.5V225.5"/><path d="M440.5 617.5V216.5"/><path d="M568.5 617.5V112.5"/><path d="M353.5 617.5V325.5"/><path d="M1126.5 617.5V540.5"/><path d="M271.5 617.5V448.5"/><path d="M795.5 617.5V126.5"/><path d="M611.5 617.5V94.5"/><path d="M593.5 617.5V100.5"/><path d="M541.5 617.5V127.5"/><path d="M1040.5 617.5V403.5"/><path d="M449.5 617.5V207.5"/><path d="M188.5 617.5V583.5"/><path d="M1090.5 617.5V482.5"/><path d="M1036.5 617.5V397.5"/><path d="M445.5 617.5V210.5"/><path d="M693.5 617.5V86.5"/><path d="M277.5 617.5V438.5"/><path d="M261.5 617.5V463.5"/><path d="M1009.5 617.5V357.5"/><path d="M579.5 617.5V106.5"/><path d="M832.5 617.5V152.5"/><path d="M1115.5 617.5V522.5"/><path d="M414.5 617.5V247.5"/><path d="M181.5 617.5V595.5"/><path d="M192.5 617.5V577.5"/><path d="M880.5 617.5V196.5"/><path d="M1096.5 617.5V492.5"/><path d="M637.5 617.5V88.5"/><path d="M544.5 617.5V125.5"/><path d="M713.5 617.5V90.5"/><path d="M1030.5 617.5V389.5"/><path d="M822.5 617.5V145.5"/><path d="M401.5 617.5V261.5"/><path d="M945.5 617.5V271.5"/><path d="M303.5 617.5V399.5"/><path d="M334.5 617.5V353.5"/><path d="M783.5 617.5V118.5"/><path d="M407.5 617.5V254.5"/><path d="M875.5 617.5V191.5"/><path d="M518.5 617.5V143.5"/><path d="M446.5 617.5V210.5"/><path d="M1171.5 617.5V615.5"/><path d="M208.5 617.5V549.5"/><path d="M816.5 617.5V140.5"/><path d="M206.5 617.5V552.5"/><path d="M931.5 617.5V253.5"/><path d="M398.5 617.5V265.5"/><path d="M258.5 617.5V469.5"/><path d="M819.5 617.5V142.5"/><path d="M903.5 617.5V221.5"/><path d="M849.5 617.5V166.5"/><path d="M219.5 617.5V531.5"/><path d="M463.5 617.5V192.5"/><path d="M620.5 617.5V91.5"/><path d="M456.5 617.5V200.5"/><path d="M982.5 617.5V319.5"/><path d="M299.5 617.5V404.5"/><path d="M782.5 617.5V118.5"/><path d="M1160.5 617.5V597.5"/><path d="M1074.5 617.5V457.5"/><path d="M390.5 617.5V275.5"/><path d="M167.5 617.5V617.5"/><path d="M1152.5 617.5V584.5"/><path d="M1054.5 617.5V425.5"/><path d="M1091.5 617.5V484.5"/><path d="M585.5 617.5V104.5"/><path d="M915.5 617.5V234.5"/></g>
</g>
<path d="M167 643v9.00M327 643v9.00M487 643v9.00M647 643v9.00M807 643v9.00M967 643v9.00M1127 643v9.00M117 617h-9.00M117 510h-9.00M117 404h-9.00M117 298h-9.00M117 191h-9.00M117 85h-9.00" stroke="#000" stroke-width="2.133" fill="none"/>
<rect x="117" y="58" width="1105" height="585" fill="none" stroke="#000" stroke-width="2.133"/>
<g clip-path="url(#c2)" stroke="#b0b0b0" stroke-width="2.133" fill="none">
<path d="M1401 643.45V58.45M1602 643.45V58.45M1803 643.45V58.45M2005 643.45V58.45M2206 643.45V58.45M2407 643.45V58.45M1350.55 635H2455.70M1350.55 544H2455.70M1350.55 454H2455.70M1350.55 364H2455.70M1350.55 273H2455.70M1350.55 183H2455.70M1350.55 93H2455.70"/></g>
<g clip-path="url(#c2)"><polyline points="1400.78,126.98 1402.80,173.55 1404.81,310.91 1406.82,143.22 1408.84,164.90 1410.85,85.04 1412.86,397.15 1414.88,356.06 1416.89,273.00 1418.90,222.18 1420.92,196.60 1422.93,205.79 1424.94,163.50 1426.96,288.41 1428.97,252.37 1430.98,259.11 1433.00,296.92 1435.01,333.48 1437.03,295.79 1439.04,261.88 1441.05,242.39 1443.07,283.56 1445.08,283.42 1447.09,262.20 1449.11,262.45 1451.12,253.56 1453.13,239.23 1455.15,251.26 1457.16,248.76 1459.17,235.14 1461.19,280.18 1463.20,260.95 1465.21,243.04 1467.23,224.24 1469.24,208.70 1471.25,205.20 1473.27,190.98 1475.28,225.65 1477.29,269.76 1479.31,253.10 1481.32,242.43 1483.33,270.78 1485.35,265.83 1487.36,253.07 1489.37,275.98 1491.39,279.37 1493.40,265.07 1495.41,307.72 1497.43,293.46 1499.44,283.19 1501.45,304.91 1503.47,317.68 1505.48,306.98 1507.49,294.48 1509.51,288.08 1511.52,285.15 1513.53,274.87 1515.55,271.02 1517.56,289.46 1519.57,278.05 1521.59,273.41 1523.60,264.27 1525.61,257.20 1527.63,253.49 1529.64,266.40 1531.65,288.24 1533.67,291.74 1535.68,294.43 1537.69,301.98 1539.71,293.04 1541.72,311.46 1543.73,327.15 1545.75,320.30 1547.76,319.67 1549.77,346.04 1551.79,337.90 1553.80,328.95 1555.82,338.60 1557.83,348.60 1559.84,345.77 1561.86,342.13 1563.87,339.23 1565.88,330.86 1567.90,324.24 1569.91,341.36 1571.92,350.03 1573.94,344.67 1575.95,364.09 1577.96,361.35 1579.98,354.53 1581.99,352.52 1584.00,374.77 1586.02,369.55 1588.03,371.10 1590.04,364.29 1592.06,361.57 1594.07,369.63 1596.08,363.26 1598.10,364.57 1600.11,360.32 1602.12,352.85 1604.14,349.23 1606.15,360.54 1608.16,369.64 1610.18,366.46 1612.19,362.63 1614.20,369.76 1616.22,363.03 1618.23,370.60 1620.24,365.30 1622.26,362.55 1624.27,358.38 1626.28,363.96 1628.30,369.45 1630.31,365.89 1632.32,359.65 1634.34,353.92 1636.35,347.61 1638.36,365.00 1640.38,381.44 1642.39,391.59 1644.40,394.27 1646.42,392.57 1648.43,386.25 1650.44,395.81 1652.46,410.88 1654.47,410.70 1656.48,404.84 1658.50,408.09 1660.51,403.09 1662.52,402.45 1664.54,407.47 1666.55,402.48 1668.57,409.04 1670.58,423.00 1672.59,432.69 1674.61,427.16 1676.62,429.43 1678.63,423.73 1680.65,418.10 1682.66,426.63 1684.67,424.77 1686.69,434.39 1688.70,429.08 1690.71,423.56 1692.73,423.79 1694.74,423.52 1696.75,434.24 1698.77,432.61 1700.78,436.85 1702.79,440.76 1704.81,442.07 1706.82,440.60 1708.83,438.47 1710.85,435.49 1712.86,442.11 1714.87,439.14 1716.89,445.62 1718.90,443.61 1720.91,438.67 1722.93,433.81 1724.94,434.41 1726.95,429.68 1728.97,437.39 1730.98,432.91 1732.99,435.62 1735.01,432.81 1737.02,440.95 1739.03,440.94 1741.05,436.47 1743.06,436.52 1745.07,444.11 1747.09,448.64 1749.10,451.42 1751.11,458.26 1753.13,463.19 1755.14,470.29 1757.15,474.64 1759.17,470.56 1761.18,466.19 1763.19,461.72 1765.21,466.75 1767.22,468.37 1769.23,470.49 1771.25,465.88 1773.26,467.84 1775.27,478.04 1777.29,473.59 1779.30,480.81 1781.31,476.69 1783.33,478.01 1785.34,476.78 1787.36,473.31 1789.37,470.82 1791.38,479.59 1793.40,476.42 1795.41,484.94 1797.42,484.52 1799.44,480.14 1801.45,484.65 1803.46,480.39 1805.48,487.17 1807.49,484.41 1809.50,493.83 1811.52,494.16 1813.53,490.20 1815.54,495.28 1817.56,493.59 1819.57,491.04 1821.58,498.25 1823.60,499.29 1825.61,495.09 1827.62,491.26 1829.64,492.19 1831.65,488.56 1833.66,484.48 1835.68,486.44 1837.69,484.38 1839.70,487.27 1841.72,489.01 1843.73,485.43 1845.74,493.80 1847.76,493.92 1849.77,499.34 1851.78,504.78 1853.80,509.79 1855.81,505.88 1857.82,501.92 1859.84,500.06 1861.85,506.67 1863.86,506.59 1865.88,511.31 1867.89,511.31 1869.90,512.67 1871.92,516.96 1873.93,523.49 1875.94,521.85 1877.96,529.19 1879.97,525.40 1881.98,522.48 1884.00,530.24 1886.01,526.42 1888.02,533.87 1890.04,530.94 1892.05,535.26 1894.06,531.56 1896.08,537.95 1898.09,535.57 1900.10,536.49 1902.12,537.41 1904.13,538.11 1906.15,534.58 1908.16,533.37 1910.17,530.15 1912.19,531.36 1914.20,537.69 1916.21,535.27 1918.23,538.15 1920.24,544.63 1922.25,543.80 1924.27,540.20 1926.28,545.18 1928.29,552.15 1930.31,552.04 1932.32,549.28 1934.33,549.75 1936.35,553.38 1938.36,553.36 1940.37,551.83 1942.39,549.24 1944.40,548.12 1946.41,545.61 1948.43,552.36 1950.44,549.81 1952.45,546.42 1954.47,548.28 1956.48,545.34 1958.49,544.04 1960.51,541.53 1962.52,547.48 1964.53,550.72 1966.55,556.92 1968.56,559.68 1970.57,559.87 1972.59,565.04 1974.60,563.78 1976.61,569.42 1978.63,572.06 1980.64,570.77 1982.65,575.95 1984.67,572.84 1986.68,575.46 1988.69,573.12 1990.71,577.36 1992.72,579.34 1994.73,583.84 1996.75,585.30 1998.76,587.10 2000.77,589.69 2002.79,586.84 2004.80,592.51 2006.81,591.42 2008.83,597.29 2010.84,600.90 2012.85,600.88 2014.87,603.35 2016.88,600.93 2018.89,597.76 2020.91,594.75 2022.92,594.75 2024.94,591.80 2026.95,589.77 2028.96,588.38 2030.98,585.54 2032.99,582.52 2035.00,586.50 2037.02,583.74 2039.03,588.13 2041.04,585.18 2043.06,582.12 2045.07,587.81 2047.08,584.77 2049.10,588.53 2051.11,589.14 2053.12,593.41 2055.14,590.75 2057.15,588.42 2059.16,590.31 2061.18,595.22 2063.19,598.67 2065.20,597.02 2067.22,600.04 2069.23,597.53 2071.24,598.31 2073.26,596.45 2075.27,594.42 2077.28,591.98 2079.30,591.60 2081.31,589.38 2083.32,589.07 2085.34,592.88 2087.35,595.92 2089.36,593.95 2091.38,591.79 2093.39,590.92 2095.40,591.32 2097.42,589.53 2099.43,587.87 2101.44,590.24 2103.46,591.23 2105.47,590.11 2107.48,594.34 2109.50,591.77 2111.51,591.42 2113.52,593.75 2115.54,592.47 2117.55,594.15 2119.56,597.04 2121.58,594.68 2123.59,592.64 2125.60,590.06 2127.62,590.74 2129.63,589.19 2131.64,589.40 2133.66,588.51 2135.67,587.95 2137.68,585.40 2139.70,583.75 2141.71,581.16 2143.73,579.90 2145.74,582.83 2147.75,580.44 2149.77,580.35 2151.78,579.91 2153.79,580.01 2155.81,580.51 2157.82,581.43 2159.83,578.88 2161.85,579.02 2163.86,578.85 2165.87,577.30 2167.89,581.10 2169.90,579.44 2171.91,579.45 2173.93,578.17 2175.94,578.60 2177.95,576.11 2179.97,576.78 2181.98,575.36 2183.99,580.00 2186.01,582.79 2188.02,581.12 2190.03,584.60 2192.05,582.11 2194.06,581.42 2196.07,579.63 2198.09,579.93 2200.10,577.69 2202.11,577.86 2204.13,579.21 2206.14,576.85 2208.15,576.05 2210.17,579.20 2212.18,577.95 2214.19,580.59 2216.21,584.22 2218.22,583.24 2220.23,580.84 2222.25,578.56 2224.26,582.31 2226.27,585.96 2228.29,584.50 2230.30,587.86 2232.31,585.95 2234.33,584.15 2236.34,582.21 2238.35,582.56 2240.37,583.64 2242.38,581.93 2244.39,583.55 2246.41,581.22 2248.42,580.23 2250.43,583.58 2252.45,584.31 2254.46,583.00 2256.48,586.78 2258.49,590.86 2260.50,588.83 2262.52,587.31 2264.53,585.31 2266.54,584.85 2268.56,587.46 2270.57,586.91 2272.58,586.26 2274.60,584.33 2276.61,585.02 2278.62,588.33 2280.64,590.50 2282.65,588.74 2284.66,586.61 2286.68,584.57 2288.69,582.86 2290.70,584.48 2292.72,583.73 2294.73,587.49 2296.74,590.03 2298.76,591.55 2300.77,590.84 2302.78,588.65 2304.80,590.65 2306.81,592.93 2308.82,593.95 2310.84,592.02 2312.85,590.63 2314.86,593.59 2316.88,593.31 2318.89,597.09 2320.90,600.65 2322.92,599.77 2324.93,602.32 2326.94,600.19 2328.96,598.50 2330.97,596.40 2332.98,597.76 2335.00,596.30 2337.01,596.19 2339.02,596.19 2341.04,597.64 2343.05,598.57 2345.06,596.82 2347.08,596.63 2349.09,595.73 2351.10,594.29 2353.12,593.60 2355.13,597.47 2357.14,600.59 2359.16,599.11 2361.17,602.24 2363.18,602.03 2365.20,601.95 2367.21,604.13 2369.22,602.68 2371.24,602.11 2373.25,600.94 2375.27,603.79 2377.28,602.91 2379.29,600.92 2381.31,600.13 2383.32,600.64 2385.33,602.08 2387.35,600.40 2389.36,603.93 2391.37,605.92 2393.39,605.95 2395.40,609.65 2397.41,613.00 2399.43,614.62 2401.44,616.86 2403.45,615.03 2405.47,614.60" fill="none" stroke="#1f77b4" stroke-width="4.000" stroke-linejoin="round" stroke-linecap="square"/>
<path d="M1351 635H2456" stroke="#f00" stroke-width="4.000" stroke-dasharray="14.80 6.40" fill="none"/></g>
<path d="M1401 643v9.00M1602 643v9.00M1803 643v9.00M2005 643v9.00M2206 643v9.00M2407 643v9.00M1351 635h-9.00M1351 544h-9.00M1351 454h-9.00M1351 364h-9.00M1351 273h-9.00M1351 183h-9.00M1351 93h-9.00" stroke="#000" stroke-width="2.133" fill="none"/>
<rect x="1351" y="58" width="1105" height="585" fill="none" stroke="#000" stroke-width="2.133"/>
<g font-family="'DejaVu Sans', 'Liberation Sans', sans-serif" fill="#000">
<text x="167.68" y="683.00" font-size="26.667" text-anchor="middle">0.0</text>
<text x="327.58" y="683.00" font-size="26.667" text-anchor="middle">0.5</text>
<text x="487.48" y="683.00" font-size="26.667" text-anchor="middle">1.0</text>
<text x="647.38" y="683.00" font-size="26.667" text-anchor="middle">1.5</text>
<text x="807.28" y="683.00" font-size="26.667" text-anchor="middle">2.0</text>
<text x="967.18" y="683.00" font-size="26.667" text-anchor="middle">2.5</text>
<text x="1127.08" y="683.00" font-size="26.667" text-anchor="middle">3.0</text>
<text x="670.02" y="720.00" font-size="26.667" text-anchor="middle">x</text>
<text x="98.38" y="628.00" font-size="26.667" text-anchor="end">0.0</text>
<text x="98.38" y="521.00" font-size="26.667" text-anchor="end">0.2</text>
<text x="98.38" y="415.00" font-size="26.667" text-anchor="end">0.4</text>
<text x="98.38" y="309.00" font-size="26.667" text-anchor="end">0.6</text>
<text x="98.38" y="202.00" font-size="26.667" text-anchor="end">0.8</text>
<text x="98.38" y="96.00" font-size="26.667" text-anchor="end">1.0</text>
<text x="38.86" y="353.45" font-size="26.667" text-anchor="middle" transform="rotate(-90 38.86 353.45)">f(x)</text>
<text x="670.02" y="43.00" font-size="32.000" text-anchor="middle">Monte Carlo Samples</text>
<text x="1401.18" y="683.00" font-size="26.667" text-anchor="middle">0</text>
<text x="1602.52" y="683.00" font-size="26.667" text-anchor="middle">100</text>
<text x="1803.86" y="683.00" font-size="26.667" text-anchor="middle">200</text>
<text x="2004.40" y="683.00" font-size="26.667" text-anchor="middle">300</text>
<text x="2206.14" y="683.00" font-size="26.667" text-anchor="middle">400</text>
<text x="2407.08" y="683.00" font-size="26.667" text-anchor="middle">500</text>
<text x="1903.53" y="720.00" font-size="26.667" text-anchor="middle">Number of samples</text>
<text x="1331.88" y="645.00" font-size="26.667" text-anchor="end">2.0</text>
<text x="1331.88" y="555.00" font-size="26.667" text-anchor="end">2.1</text>
<text x="1331.88" y="465.00" font-size="26.667" text-anchor="end">2.2</text>
<text x="1331.88" y="374.00" font-size="26.667" text-anchor="end">2.3</text>
<text x="1331.88" y="284.00" font-size="26.667" text-anchor="end">2.4</text>
<text x="1331.88" y="194.00" font-size="26.667" text-anchor="end">2.5</text>
<text x="1331.88" y="103.00" font-size="26.667" text-anchor="end">2.6</text>
<text x="1274.86" y="354.85" font-size="26.667" text-anchor="middle" transform="rotate(-90 1274.86 354.85)">Estimate</text>
<text x="1902.53" y="43.00" font-size="32.000" text-anchor="middle">Convergence of Integral Estimate</text>
</g>
<path d="M1004.32 158.87H1204.43Q1209.77 158.87 1209.77 153.53V77.92Q1209.77 72.58 1204.43 72.58H1004.32Q998.98 72.58 998.98 77.92V153.53Q998.98 158.87 1004.32 158.87Z" fill="#fff" stroke="#ccc" stroke-width="2.667" stroke-linejoin="miter" opacity=".8"/>
<path d="M1009 93H1063" stroke="#000" stroke-width="4.000" stroke-linecap="square" fill="none"/>
<use href="#m" x="1036.32" y="135.65"/>
<path d="M2064.67 158.87H2437.03Q2442.37 158.87 2442.37 153.53V77.92Q2442.37 72.58 2437.03 72.58H2064.67Q2059.34 72.58 2059.34 77.92V153.53Q2059.34 158.87 2064.67 158.87Z" fill="#fff" stroke="#ccc" stroke-width="2.667" stroke-linejoin="miter" opacity=".8"/>
<path d="M2070 93H2123" stroke="#1f77b4" stroke-width="4.000" stroke-linecap="square" fill="none"/>
<path d="M2070 133H2123" stroke="#f00" stroke-width="4.000" stroke-dasharray="14.80 6.40" fill="none"/>
<g font-family="'DejaVu Sans', 'Liberation Sans', sans-serif" fill="#000">
<text x="1084.72" y="103.00" font-size="26.667" text-anchor="start">f(x)</text>
<text x="1084.72" y="143.00" font-size="26.667" text-anchor="start">Samples</text>
<text x="2143.97" y="103.00" font-size="26.667" text-anchor="start">Monte Carlo estimate</text>
<text x="2144.67" y="143.00" font-size="26.667" text-anchor="start">True value</text>
</g>
</svg>
</body></html>
